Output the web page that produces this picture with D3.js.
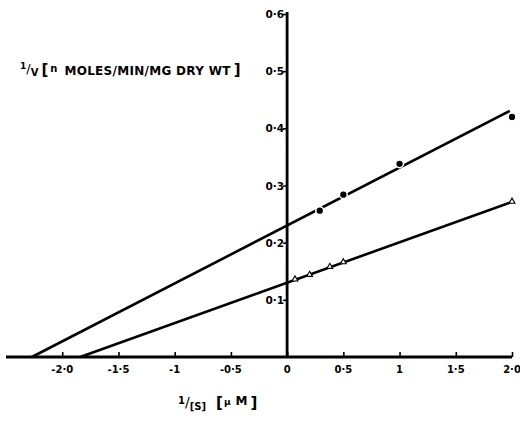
<!DOCTYPE html>
<html>
<head>
<meta charset="utf-8">
<script src="https://cdn.jsdelivr.net/npm/d3@7"></script>
<style>
  html, body { margin: 0; padding: 0; background: #fff; }
  svg { display: block; }
  text { font-family: "DejaVu Sans", "Liberation Sans", sans-serif; font-weight: bold; fill: #000; }
</style>
</head>
<body>
<svg id="chart" width="520" height="421"></svg>
<script>
// Double-reciprocal (Lineweaver–Burk) plot: 1/v against 1/[S]
const xTicks = [-2.0, -1.5, -1, -0.5, 0, 0.5, 1, 1.5, 2.0];
const xTickLabels = ["-2·0", "-1·5", "-1", "-0·5", "0", "0·5", "1", "1·5", "2·0"];
const yTicks = [0.1, 0.2, 0.3, 0.4, 0.5, 0.6];
const yTickLabels = ["0·1", "0·2", "0·3", "0·4", "0·5", "0·6"];

// Measured points
const circleX = [0.29, 0.5, 1.0, 2.0];
const circleY = [0.256, 0.284, 0.338, 0.42];
const triangleX = [0.07, 0.2, 0.38, 0.5, 2.0];
const triangleY = [0.136, 0.144, 0.158, 0.166, 0.272];

// Fitted lines, extrapolated to the 1/[S] axis
const fitIntercepts = [0.23, 0.13];
const fitSlopes = [0.1013, 0.0707];
const fitXStart = [-2.27, -1.84];
const fitXEnd = [1.98, 2.0];

const svg = d3.select("#chart");
const x = d3.scaleLinear().domain([-2.5, 2.0]).range([6, 512]);
const y = d3.scaleLinear().domain([0, 0.6]).range([357, 14]);

// Fitted lines
const line = d3.line().x(d => x(d[0])).y(d => y(d[1]));
fitIntercepts.forEach((b, i) => {
  const m = fitSlopes[i];
  const pts = [[fitXStart[i], b + m * fitXStart[i]], [fitXEnd[i], b + m * fitXEnd[i]]];
  svg.append("path").attr("d", line(pts))
    .attr("fill", "none").attr("stroke", "#000").attr("stroke-width", 2.6);
});

// X axis (ticks pointing up)
const xAxis = d3.axisTop(x).tickValues(xTicks).tickSize(5).tickFormat("");
const gx = svg.append("g").attr("transform", `translate(0,${y(0)})`).call(xAxis);
gx.select(".domain").remove();
gx.selectAll(".tick line").attr("stroke", "#000").attr("stroke-width", 1.6);
svg.append("line").attr("x1", x(-2.5)).attr("x2", x(2.0)).attr("y1", y(0)).attr("y2", y(0))
  .attr("stroke", "#000").attr("stroke-width", 2.8);
svg.append("g").selectAll("text").data(xTicks).join("text")
  .attr("x", d => x(d)).attr("y", y(0) + 16)
  .attr("text-anchor", "middle").attr("font-size", 10)
  .text((d, i) => xTickLabels[i]);

// Y axis at 1/[S] = 0 (ticks pointing left)
const yAxis = d3.axisLeft(y).tickValues(yTicks).tickSize(4).tickFormat("");
const gy = svg.append("g").attr("transform", `translate(${x(0)},0)`).call(yAxis);
gy.select(".domain").remove();
gy.selectAll(".tick line").attr("stroke", "#000").attr("stroke-width", 1.6);
svg.append("line").attr("x1", x(0)).attr("x2", x(0)).attr("y1", y(0.6) - 2).attr("y2", y(0))
  .attr("stroke", "#000").attr("stroke-width", 2.8);
svg.append("g").selectAll("text").data(yTicks).join("text")
  .attr("x", x(0) - 3).attr("y", d => y(d) + 4)
  .attr("text-anchor", "end").attr("font-size", 10.5)
  .text((d, i) => yTickLabels[i]);

// Data markers
svg.append("g").selectAll("circle").data(circleX).join("circle")
  .attr("cx", d => x(d)).attr("cy", (d, i) => y(circleY[i])).attr("r", 3.9)
  .attr("fill", "#000").attr("stroke", "#fff").attr("stroke-width", 1.5);
const tri = d3.symbol().type(d3.symbolTriangle).size(15);
svg.append("g").selectAll("path").data(triangleX).join("path")
  .attr("transform", (d, i) => `translate(${x(d)},${y(triangleY[i])})`)
  .attr("d", tri).attr("fill", "#fff").attr("stroke", "#000").attr("stroke-width", 1.1);

// Axis titles
const yt = svg.append("text").attr("x", 20).attr("y", 76).attr("font-size", 12);
yt.append("tspan").attr("font-size", 9).attr("dy", -7).text("1");
yt.append("tspan").attr("font-size", 13).attr("dy", 4).attr("font-weight", "normal").text("/");
yt.append("tspan").attr("font-size", 10).attr("dy", 3).text("V");
yt.append("tspan").attr("font-size", 15).attr("dy", -1).attr("dx", 3).text("[");
yt.append("tspan").attr("font-size", 10).attr("dy", -3).attr("dx", 2).text("n");
yt.append("tspan").attr("font-size", 12).attr("dy", 3).attr("dx", 7).attr("letter-spacing", 0.3)
  .text("MOLES/MIN/MG DRY WT");
yt.append("tspan").attr("font-size", 15).attr("dy", 0).attr("dx", 3).text("]");

const xt = svg.append("text").attr("x", 178).attr("y", 408).attr("font-size", 12);
xt.append("tspan").attr("font-size", 10).attr("dy", -4).text("1");
xt.append("tspan").attr("font-size", 14).attr("dy", 3).attr("font-weight", "normal").text("/");
xt.append("tspan").attr("font-size", 10).attr("dy", 3).text("[S]");
xt.append("tspan").attr("font-size", 15).attr("dy", -2).attr("dx", 10).text("[");
xt.append("tspan").attr("font-size", 9).attr("dy", -3).attr("dx", 1).text("μ");
xt.append("tspan").attr("font-size", 12).attr("dy", 0).attr("dx", 5).text("M");
xt.append("tspan").attr("font-size", 15).attr("dy", 3).attr("dx", 3).text("]");
</script>
</body>
</html>
